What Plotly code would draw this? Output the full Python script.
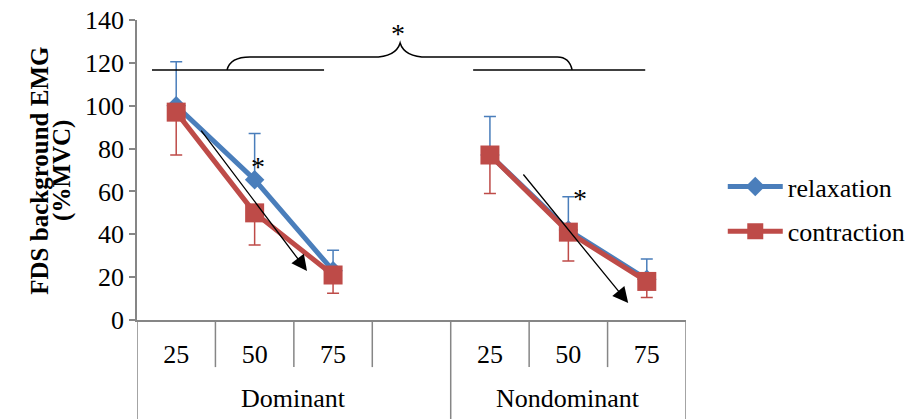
import plotly.graph_objects as go

categories = ["25", "50", "75", "", "25", "50", "75"]
groups = ["Dominant", "Nondominant"]
relaxation = [100, 65.5, 23, None, 77, 42, 19]
relax_err_up = [20.5, 21.5, 9.5, None, 18, 15.5, 9.5]
contraction = [97, 50, 21, None, 77, 41, 18]
contr_err_down = [20, 15, 8.5, None, 18, 13.5, 7.5]
y_ticks = [0, 20, 40, 60, 80, 100, 120, 140]
y_title_lines = ["FDS background EMG", "(%MVC)"]

FONT = "Liberation Serif, Times New Roman, serif"
FS = 26
BLUE = "#4A7EBB"
RED = "#BE4B48"
GRID = "#868686"

x = list(range(len(categories)))

fig = go.Figure()
fig.add_trace(go.Scatter(
    x=x, y=relaxation, name="relaxation", mode="lines+markers",
    line=dict(color=BLUE, width=5), connectgaps=False,
    marker=dict(symbol="diamond", size=15, color=BLUE),
    error_y=dict(type="data", symmetric=False, array=relax_err_up,
                 arrayminus=[0 if v is not None else None for v in relax_err_up],
                 color=BLUE, thickness=1.5, width=6),
    legendgroup="a",
))
fig.add_trace(go.Scatter(
    x=x, y=contraction, name="contraction", mode="lines+markers",
    line=dict(color=RED, width=5), connectgaps=False,
    marker=dict(symbol="square", size=19, color=RED),
    error_y=dict(type="data", symmetric=False,
                 array=[0 if v is not None else None for v in contr_err_down],
                 arrayminus=contr_err_down,
                 color=RED, thickness=1.5, width=6),
    legendgroup="b",
))

shapes = []
for b in [0.5, 1.5, 2.5, 4.5, 5.5]:
    shapes.append(dict(type="line", xref="x", yref="paper", x0=b, x1=b, y0=0, y1=-0.157,
                       line=dict(color=GRID, width=1.5)))
for b in [-0.5, 3.5, 6.5]:
    shapes.append(dict(type="line", xref="x", yref="paper", x0=b, x1=b, y0=0, y1=-0.34,
                       line=dict(color=GRID, width=1.5)))
line_y = 116.7
shapes.append(dict(type="line", xref="x", yref="y", x0=-0.309, x1=1.885, y0=line_y, y1=line_y,
                   line=dict(color="black", width=1.5)))
shapes.append(dict(type="line", xref="x", yref="y", x0=3.786, x1=5.98, y0=line_y, y1=line_y,
                   line=dict(color="black", width=1.5)))
brace = ("M 0.648,116.7 Q 0.69,122.7 0.94,122.7 L 2.51,122.7 "
         "Q 2.80,122.7 2.855,129.3 Q 2.91,122.7 3.20,122.7 L 4.86,122.7 "
         "Q 5.01,122.7 5.048,116.7")
shapes.append(dict(type="path", xref="x", yref="y", path=brace,
                   line=dict(color="black", width=1.5)))

annotations = []
for gname, cx in zip(groups, [1.5, 5.0]):
    annotations.append(dict(text=gname, x=cx, xref="x", y=-0.26, yref="paper",
                            showarrow=False, font=dict(family=FONT, size=FS, color="black"),
                            yanchor="middle"))
for (tx, ty, hx, hy) in [(0.304, 89.1, 1.668, 22.9), (4.411, 68.6, 5.763, 7.9)]:
    annotations.append(dict(x=hx, y=hy, ax=tx, ay=ty, xref="x", yref="y", axref="x", ayref="y",
                            showarrow=True, arrowhead=2, arrowsize=2.4, arrowwidth=1.3,
                            arrowcolor="black", text=""))
for (ax_, ay_) in [(1.043, 71.5), (5.15, 56.6), (2.83, 133.5)]:
    annotations.append(dict(text="*", x=ax_, y=ay_, xref="x", yref="y", showarrow=False,
                            font=dict(family=FONT, size=28, color="black"),
                            yanchor="middle"))
for line_text, px in zip(y_title_lines, [-0.177, -0.1366]):
    annotations.append(dict(text="<b>" + line_text + "</b>", x=px, xref="paper", y=0.497,
                            yref="paper", textangle=-90, showarrow=False,
                            xanchor="center", yanchor="middle",
                            font=dict(family=FONT, size=25, color="black")))

fig.update_layout(
    width=908, height=419,
    margin=dict(l=137, r=222, t=20, b=99, autoexpand=False),
    paper_bgcolor="white", plot_bgcolor="white",
    font=dict(family=FONT, size=FS, color="black"),
    showlegend=True,
    legend=dict(x=0.796, xref="container", xanchor="left", y=0.501, yref="container",
                yanchor="middle",
                font=dict(family=FONT, size=FS, color="black"),
                tracegroupgap=8, bgcolor="rgba(0,0,0,0)", itemwidth=55),
    xaxis=dict(range=[-0.5, 6.5], tickvals=x, ticktext=categories, ticks="",
               showgrid=False, zeroline=False, showline=True, linecolor=GRID, linewidth=1.5,
               automargin=False,
               ticklabelstandoff=10, tickfont=dict(family=FONT, size=FS, color="black")),
    yaxis=dict(range=[0, 140], tickvals=y_ticks, showgrid=False, zeroline=False,
               showline=True, linecolor=GRID, linewidth=1.5, ticks="outside", ticklen=6,
               tickcolor=GRID, tickwidth=1.5, automargin=False,
               tickfont=dict(family=FONT, size=FS, color="black")),
    shapes=shapes, annotations=annotations,
)

fig.write_html("out.html")
